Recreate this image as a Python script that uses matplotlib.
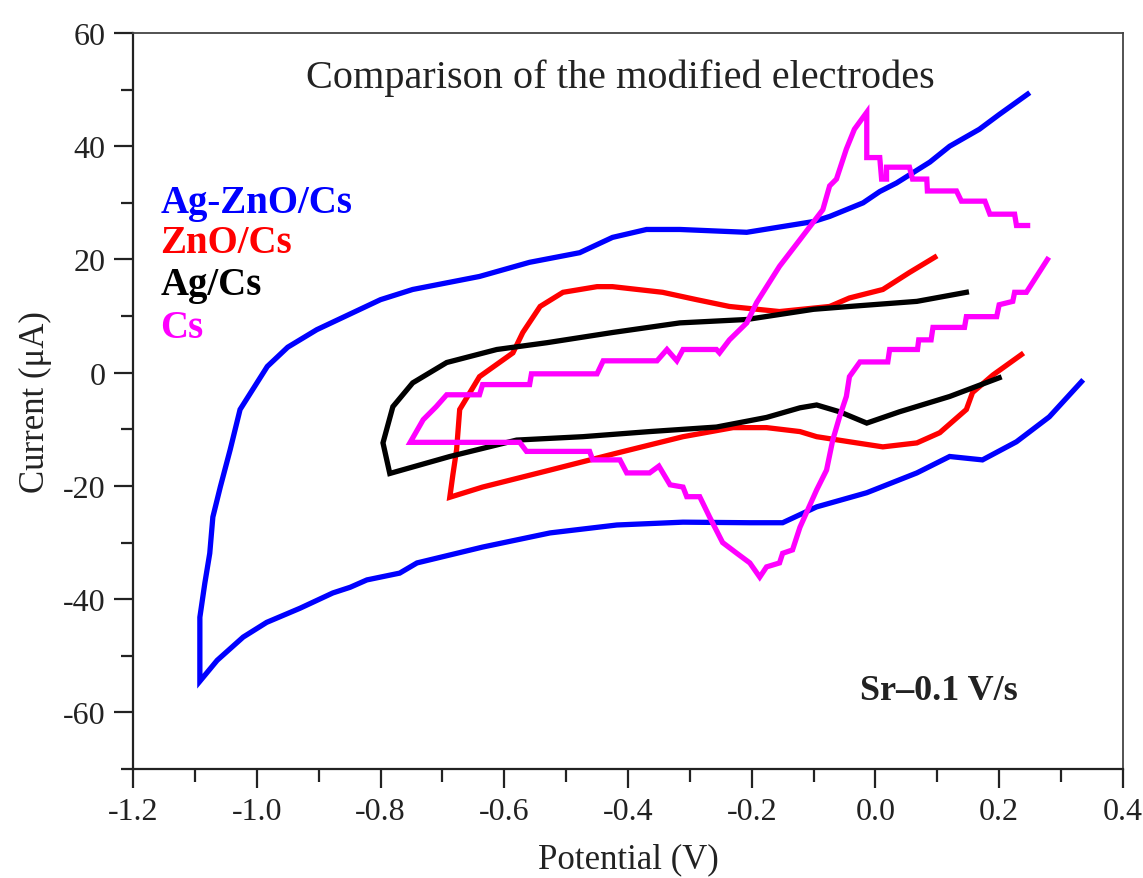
import matplotlib
matplotlib.use("Agg")
import matplotlib.pyplot as plt
from matplotlib.ticker import MultipleLocator

# Ag-ZnO/Cs (blue)
agzno_v = [0.246, 0.20, 0.168, 0.12, 0.088, 0.034, 0.007, -0.02, -0.074, -0.10, -0.208,
           -0.316, -0.37, -0.425, -0.478, -0.559, -0.64, -0.748, -0.80, -0.903, -0.95,
           -0.983, -1.027, -1.043, -1.059, -1.071, -1.076, -1.084, -1.092, -1.092,
           -1.064, -1.022, -0.984, -0.93, -0.877, -0.849, -0.822, -0.769, -0.741, -0.635,
           -0.526, -0.418, -0.311, -0.203, -0.15, -0.095, -0.014, 0.067, 0.12, 0.173,
           0.228, 0.281, 0.333]
agzno_i = [49.2, 45.6, 43.0, 40.0, 37.2, 33.5, 32.0, 30.0, 27.6, 26.7, 24.8,
           25.3, 25.3, 23.9, 21.2, 19.5, 17.0, 14.7, 12.9, 7.6, 4.5,
           1.1, -6.5, -13.6, -20.2, -25.5, -31.9, -37.2, -43.2, -54.5,
           -50.8, -46.7, -44.1, -41.6, -38.9, -37.9, -36.6, -35.4, -33.6, -30.8,
           -28.3, -26.9, -26.4, -26.5, -26.5, -23.7, -21.2, -17.7, -14.8, -15.4,
           -12.2, -7.8, -1.6]

# ZnO/Cs (red)
zno_v = [0.096, 0.055, 0.012, -0.042, -0.074, -0.155, -0.236, -0.289, -0.344, -0.425,
         -0.45, -0.505, -0.542, -0.57, -0.586, -0.64, -0.672, -0.677, -0.683, -0.688,
         -0.635, -0.526, -0.418, -0.311, -0.23, -0.176, -0.122, -0.095, -0.042, 0.012,
         0.067, 0.104, 0.147, 0.157, 0.19, 0.236]
zno_i = [20.4, 17.7, 14.7, 13.2, 11.7, 10.8, 11.7, 12.9, 14.2, 15.2,
         15.2, 14.2, 11.7, 7.1, 3.5, -0.7, -6.5, -13.6, -18.0, -22.0,
         -20.2, -17.2, -14.2, -11.3, -9.7, -9.7, -10.4, -11.3, -12.2, -13.1,
         -12.4, -10.6, -6.5, -3.5, -0.4, 3.2]

# Ag/Cs (black)
ag_v = [0.147, 0.067, -0.042, -0.10, -0.208, -0.316, -0.425, -0.531, -0.612, -0.693,
        -0.748, -0.78, -0.796, -0.785, -0.688, -0.58, -0.473, -0.365, -0.257, -0.176,
        -0.122, -0.095, -0.058, -0.014, 0.039, 0.12, 0.20]
ag_i = [14.2, 12.6, 11.7, 11.2, 9.4, 8.8, 7.1, 5.3, 4.1, 1.8,
        -1.8, -6.0, -12.4, -17.8, -14.8, -11.9, -11.3, -10.4, -9.6, -7.9,
        -6.2, -5.7, -6.9, -8.9, -6.9, -4.2, -0.9]

# Cs (magenta)
cs_v = [0.246, 0.228, 0.225, 0.185, 0.177, 0.139, 0.131, 0.084, 0.083, 0.06,
        0.055, 0.018, 0.018, 0.01, 0.007, -0.014, -0.014, -0.034, -0.047, -0.063,
        -0.074, -0.085, -0.122, -0.155, -0.192, -0.208, -0.236, -0.252, -0.257, -0.311,
        -0.321, -0.337, -0.353, -0.44, -0.45, -0.556, -0.559, -0.635, -0.64, -0.693,
        -0.71, -0.731, -0.752, -0.575, -0.564, -0.462, -0.457, -0.413, -0.402, -0.365,
        -0.35, -0.332, -0.311, -0.305, -0.284, -0.268, -0.247, -0.224, -0.203, -0.187,
        -0.176, -0.155, -0.15, -0.134, -0.122, -0.095, -0.079, -0.069, -0.058, -0.047,
        -0.042, -0.025, 0.02, 0.023, 0.068, 0.07, 0.09, 0.093, 0.144, 0.147,
        0.196, 0.20, 0.222, 0.225, 0.244, 0.278]
cs_i = [26.0, 26.0, 28.0, 28.0, 30.3, 30.3, 32.1, 32.1, 34.2, 34.2,
        36.3, 36.3, 34.2, 34.2, 38.0, 38.0, 46.0, 43.0, 39.5, 34.2,
        33.0, 28.8, 23.5, 18.8, 12.4, 8.8, 5.8, 3.5, 4.1, 4.1,
        2.1, 4.1, 2.1, 2.1, -0.2, -0.2, -2.1, -2.1, -3.9, -3.9,
        -6.0, -8.3, -12.3, -12.3, -13.9, -13.9, -15.4, -15.4, -17.7, -17.7,
        -16.5, -19.8, -20.2, -21.9, -21.9, -25.5, -30.0, -31.9, -33.6, -36.1,
        -34.3, -33.6, -31.9, -31.3, -27.3, -20.7, -17.2, -11.9, -7.8, -4.2,
        -0.7, 1.9, 1.9, 4.1, 4.1, 5.8, 5.8, 8.0, 8.0, 9.9,
        9.9, 12.0, 12.6, 14.2, 14.2, 20.0]

series = [
    ("Ag-ZnO/Cs", agzno_v, agzno_i, "#0000ff"),
    ("ZnO/Cs", zno_v, zno_i, "#ff0000"),
    ("Ag/Cs", ag_v, ag_i, "#000000"),
    ("Cs", cs_v, cs_i, "#ff00ff"),
]

plt.rcParams["font.family"] = ["Liberation Serif", "DejaVu Serif"]
plt.rcParams["axes.unicode_minus"] = False

fig = plt.figure(figsize=(11.43, 8.79), dpi=100)
ax = fig.add_axes([0.1164, 0.124, 0.866, 0.8373])

for name, v, i, c in series:
    ax.plot(v, i, color=c, lw=3.8, solid_joinstyle="miter")

ax.set_xlim(-1.2, 0.4)
ax.set_ylim(-70, 60)
ax.xaxis.set_major_locator(MultipleLocator(0.2))
ax.xaxis.set_minor_locator(MultipleLocator(0.1))
ax.yaxis.set_major_locator(MultipleLocator(20))
ax.yaxis.set_minor_locator(MultipleLocator(10))
ax.xaxis.set_major_formatter(plt.FuncFormatter(lambda x, p: f"{x:.1f}"))
ax.yaxis.set_major_formatter(plt.FuncFormatter(lambda y, p: f"{y:.0f}"))
ax.tick_params(which="major", direction="out", length=14, width=1.6,
               labelsize=23, colors="#222222", pad=6)
ax.tick_params(which="minor", direction="out", length=9, width=1.6, colors="#222222")
ax.tick_params(top=False, right=False, which="both")
for s in ["left", "bottom"]:
    ax.spines[s].set_linewidth(1.6)
    ax.spines[s].set_color("#222222")
for s in ["top", "right"]:
    ax.spines[s].set_linewidth(1.3)
    ax.spines[s].set_color("#444444")

ax.set_xlabel("Potential (V)", fontsize=25, color="#222222", labelpad=12)
ax.set_ylabel("Current (\u03bcA)", fontsize=25, color="#222222", labelpad=8)

ax.text(-0.413, 52.2, "Comparison of the modified electrodes", fontsize=29,
        ha="center", va="center", color="#222222")

label_y = [30.1, 23.0, 15.6, 8.0]
for (name, v, i, c), y in zip(series, label_y):
    ax.text(-1.156, y, name, color=c, fontsize=28, fontweight="bold",
            ha="left", va="center")

ax.text(-0.025, -56.1, "Sr\u20130.1 V/s", fontsize=26, fontweight="bold",
        ha="left", va="center", color="#222222")

fig.savefig("out.png", dpi=100)
